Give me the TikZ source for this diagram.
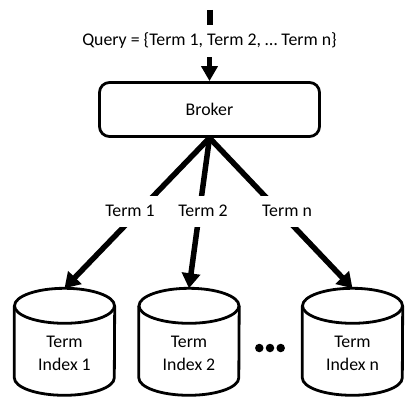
\documentclass[tikz,border=0pt]{standalone}
\usepackage{fontspec}
\setmainfont{Carlito}
\usetikzlibrary{arrows.meta,calc}
\begin{document}
\begin{tikzpicture}[x=1pt,y=1pt,
  every node/.style={font=\fontsize{17.8}{23}\selectfont},
  box/.style={draw, line width=2.8pt, rounded corners=10pt, minimum width=220pt, minimum height=54pt, inner sep=0pt},
  store/.style={minimum width=100pt, minimum height=130pt, inner sep=0pt, align=center},
  storeline/.style={line width=2.8pt},
  lbl/.style={fill=white, inner sep=3pt, minimum height=31pt},
  link/.style={line width=5.5pt, -{Triangle[length=15pt,width=18pt]}},
  dotnode/.style={circle, fill=black, minimum size=8.5pt, inner sep=0pt}
]
\useasboundingbox (0,0) rectangle (406,-398);

% incoming query
\coordinate (src) at (209.5,-10);
\node[inner sep=0pt, minimum height=32pt, fill=white] (query) at (209.5,-41)
  {Query = \{Term 1, Term 2, … Term n\}};
\node[box] (broker) at (209.5,-109.5) {Broker};

\draw[line width=6pt] (src) -- (query.north);
\draw[line width=5.5pt, -{Triangle[length=15pt,width=16pt]}] (query.south) -- (broker.north);

% index stores
\node[store] (c1) at (64.5,-353.5) {Term\\Index 1};
\node[store] (c2) at (189,-353.5) {Term\\Index 2};
\node[store] (cn) at (352.5,-353.5) {Term\\Index n};

\foreach \c in {c1,c2,cn} {
  \draw[storeline] ($(\c.north)+(0,-17.5)$) ellipse [x radius=50pt, y radius=17.5pt];
  \draw[storeline] ($(\c.north west)+(0,-17.5)$) -- ($(\c.north west)+(0,-89.5)$)
    arc[start angle=180, end angle=360, x radius=50pt, y radius=17.5pt]
    -- ($(\c.north east)+(0,-17.5)$);
}

% ellipsis between stores
\node[dotnode] (d1) at (259.3,-348) {};
\node[dotnode] (d2) at (270,-348) {};
\node[dotnode] (d3) at (280.7,-348) {};

% broker to stores
\draw[link] (broker.south) -- (c1.north);
\draw[link] (broker.south) -- (c2.north);
\draw[link] (broker.south) -- (cn.north);

\node[lbl] (t1) at (130,-211) {Term 1};
\node[lbl] (t2) at (203,-211) {Term 2};
\node[lbl] (tn) at (287,-211) {Term n};
\end{tikzpicture}
\end{document}
